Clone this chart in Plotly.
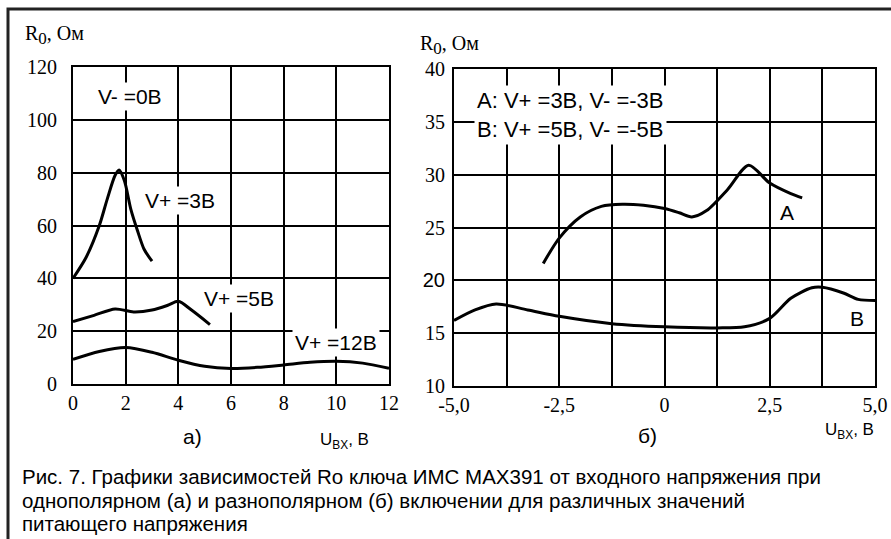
import plotly.graph_objects as go

# ---- data: panel a) (unipolar) ----
a_v3_x = [0, 0.5, 1.0, 1.3, 1.6, 1.75, 1.95, 2.2, 2.45, 2.7, 3.0]
a_v3_y = [40, 48, 60, 70, 79, 81, 77, 66, 58, 51, 46.5]
a_v5_x = [0, 0.8, 1.6, 2.3, 3.0, 3.6, 4.0, 4.5, 5.2]
a_v5_y = [23.6, 26.0, 28.4, 27.3, 28.0, 29.8, 31.3, 28.0, 22.5]
a_v12_x = [0, 1.0, 2.0, 3.0, 4.0, 5.0, 6.0, 7.0, 8.0, 9.0, 10.0, 11.0, 12.0]
a_v12_y = [9.3, 12.3, 13.8, 12.0, 9.0, 6.7, 5.9, 6.3, 7.2, 8.2, 8.6, 7.9, 5.9]

# ---- data: panel б) (bipolar) ----
b_A_x = [-2.88, -2.5, -2.0, -1.5, -1.0, -0.5, 0.0, 0.35, 0.65, 1.0, 1.5, 2.0, 2.5, 3.0, 3.27]
b_A_y = [21.6, 24.0, 26.0, 27.0, 27.2, 27.1, 26.8, 26.4, 26.0, 26.6, 28.6, 30.9, 29.2, 28.2, 27.8]
b_B_x = [-5.0, -4.5, -4.0, -3.25, -2.5, -1.25, 0.0, 1.25, 1.9, 2.5, 3.0, 3.5, 3.75, 4.25, 4.6, 5.0]
b_B_y = [16.2, 17.2, 17.76, 17.2, 16.6, 15.9, 15.6, 15.5, 15.6, 16.4, 18.3, 19.3, 19.35, 18.8, 18.2, 18.1]

xa_ticks = [0, 2, 4, 6, 8, 10, 12]
ya_ticks = [0, 20, 40, 60, 80, 100, 120]
xb_vals = [-5, -2.5, 0, 2.5, 5]
xb_text = ["-5,0", "-2,5", "0", "2,5", "5,0"]
yb_vals = [10, 15, 20, 25, 30, 35, 40]
yb_text = ["10", "15", '<span style="font-family:Liberation Sans">20</span>', "25", "30", "35", "40"]

W, H = 891, 539
SERIF = "Liberation Serif"
SANS = "Liberation Sans"

fig = go.Figure()
line = dict(color="black", width=3, shape="spline", smoothing=0.8)
for xs, ys in [(a_v3_x, a_v3_y), (a_v5_x, a_v5_y), (a_v12_x, a_v12_y)]:
    fig.add_trace(go.Scatter(x=xs, y=ys, mode="lines", line=line, xaxis="x", yaxis="y", showlegend=False))
for xs, ys in [(b_A_x, b_A_y), (b_B_x, b_B_y)]:
    fig.add_trace(go.Scatter(x=xs, y=ys, mode="lines", line=line, xaxis="x2", yaxis="y2", showlegend=False))

ax_common = dict(showgrid=True, gridcolor="#000000", gridwidth=2, showline=True, linecolor="#000000",
                 linewidth=2, mirror=True, zeroline=False, ticks="",
                 tickfont=dict(family=SERIF, size=20, color="black"))

fig.update_layout(
    width=W, height=H, margin=dict(l=0, r=0, t=0, b=0, pad=0, autoexpand=False),
    paper_bgcolor="white", plot_bgcolor="white",
    xaxis=dict(domain=[73 / W, 389 / W], range=[0, 12], tickvals=xa_ticks, anchor="y", **ax_common),
    yaxis=dict(domain=[(H - 384) / H, (H - 67) / H], range=[0, 120], tickvals=ya_ticks, anchor="x",
               ticklabelstandoff=10, **ax_common),
    xaxis2=dict(domain=[454 / W, 875 / W], range=[-5, 5], tickvals=xb_vals, ticktext=xb_text, anchor="y2",
                minor=dict(dtick=1.25, showgrid=True, gridcolor="#000000", gridwidth=2, ticks=""),
                **ax_common),
    yaxis2=dict(domain=[(H - 386) / H, (H - 69) / H], range=[10, 40], tickvals=yb_vals, ticktext=yb_text,
                anchor="x2", ticklabelstandoff=3, **ax_common),
)

def px(x, y):
    return x / W, 1 - y / H

ann = []
def add_paper(text, x, y, size=20.5, family=SANS, xanchor="center", align="center"):
    xx, yy = px(x, y)
    ann.append(dict(text=text, x=xx, y=yy, xref="paper", yref="paper", showarrow=False,
                    xanchor=xanchor, yanchor="middle", align=align,
                    font=dict(family=family, size=size, color="black")))

def add_data(text, x, y, xr, yr, size=21, bg="white", pad=2, align="center"):
    ann.append(dict(text=text, x=x, y=y, xref=xr, yref=yr, showarrow=False, align=align,
                    bgcolor=bg, borderpad=pad, font=dict(family=SANS, size=size, color="black")))

# axis titles
r0 = 'R<sub><span style="font-size:17px">0</span></sub>, Ом'
add_paper(r0, 23, 35, size=20, family=SERIF, xanchor="left")
add_paper(r0, 418, 45, size=20, family=SERIF, xanchor="left")
add_paper("U<sub>BX</sub>, B", 318, 441, size=17, xanchor="left")
add_paper("U<sub>BX</sub>, B", 823, 431, size=17, xanchor="left")
add_paper("а)", 192, 436, size=21)
add_paper("б)", 647, 435, size=21)

# panel labels
add_data("V- =0B", 2.17, 109, "x", "y")
add_data("V+ =3B", 4.06, 69.6, "x", "y")
add_data("V+ =5B", 6.3, 32.5, "x", "y")
add_data("V+ =12B", 10.0, 15.9, "x", "y")
add_data("A: V+ =3B, V- =-3B<br>B: V+ =5B, V- =-5B", -2.24, 35.6, "x2", "y2", size=22, align="left")
add_data("A", 2.91, 26.4, "x2", "y2", bg="rgba(0,0,0,0)")
add_data("B", 4.57, 16.4, "x2", "y2", bg="rgba(0,0,0,0)")

# caption
add_paper("Рис. 7. Графики зависимостей Ro ключа ИМС MAX391 от входного напряжения при", 20, 476, xanchor="left")
add_paper("однополярном (а) и разнополярном (б) включении для различных значений", 20, 500, xanchor="left")
add_paper("питающего напряжения", 20, 523, xanchor="left")

fig.update_layout(annotations=ann)

# outer frame
fig.add_shape(type="rect", xref="paper", yref="paper", x0=8 / W, x1=1.02, y0=-0.02, y1=1 - 9 / H,
              line=dict(color="#222", width=3), fillcolor="rgba(0,0,0,0)", layer="above")

fig.write_html("out.html", config={"displayModeBar": False},
               post_script="document.body.style.margin='0';document.body.style.overflow='hidden';")
